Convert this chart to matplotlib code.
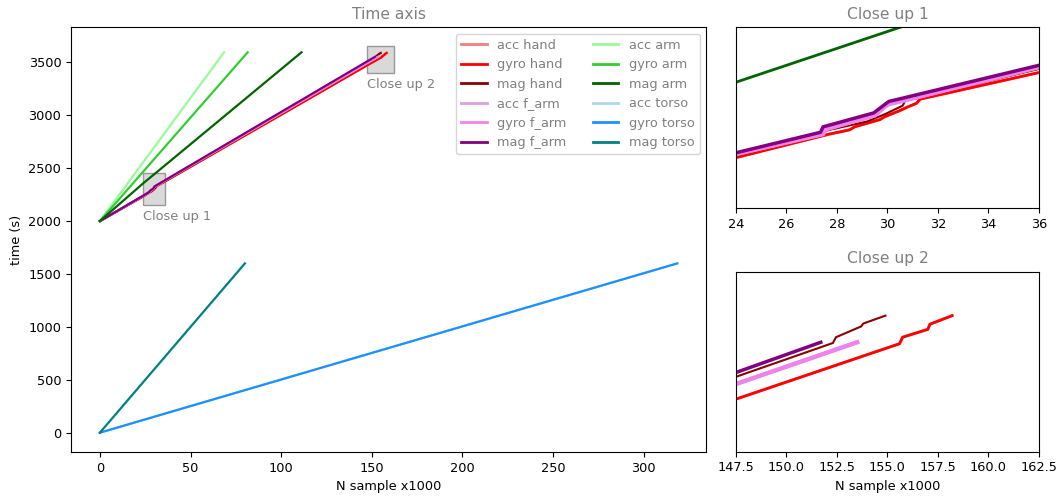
import numpy as np
import matplotlib
matplotlib.use('Agg')
import matplotlib.pyplot as plt
from matplotlib.patches import Rectangle

plt.rcParams['font.size'] = 9.3

# sample index (x1000) and timestamp (s) breakpoints for each sensor stream
gyro_hand_x = [0, 24, 27.7, 28.5, 28.7, 29.7, 29.9, 30.5, 30.8, 31.15, 31.3, 36,
               147.5, 155.6, 155.75, 157.0, 157.1, 158.2]
gyro_hand_y = [2000, 2234, 2273, 2280, 2285, 2297, 2302, 2312, 2318, 2324, 2331, 2375,
               3473, 3550, 3559, 3570, 3577, 3589]
mag_hand_x = [0, 24, 27.7, 29.2, 29.9, 30.6, 30.7, 36,
              147.5, 152.3, 152.45, 153.7, 153.8, 154.9]
mag_hand_y = [2000, 2238, 2280, 2294, 2306, 2320, 2328, 2381,
              3504, 3551, 3559, 3574, 3578, 3589]
gyro_farm_x = [0, 24, 27.45, 27.55, 29.5, 30.0, 36, 147.5, 153.5]
gyro_farm_y = [2000, 2240, 2273, 2281, 2304, 2322, 2384, 3494, 3552]
mag_farm_x = [0, 24, 27.35, 27.45, 29.45, 30.05, 36, 147.5, 151.7]
mag_farm_y = [2000, 2242, 2276, 2285, 2308, 2327, 2387, 3510, 3552]
acc_arm_x = [0, 68.5]
acc_arm_y = [2000, 3595]
gyro_arm_x = [0, 81.5]
gyro_arm_y = [2000, 3595]
mag_arm_x = [0, 24, 30.5, 111.2]
mag_arm_y = [2000, 2359, 2450, 3595]
gyro_torso_x = [0, 318.5]
gyro_torso_y = [0, 1600]
mag_torso_x = [0, 80]
mag_torso_y = [0, 1600]

# acc and gyro share the same timestamps
streams = [
    ('acc hand', 'lightcoral', gyro_hand_x, gyro_hand_y),
    ('gyro hand', 'red', gyro_hand_x, gyro_hand_y),
    ('mag hand', 'darkred', mag_hand_x, mag_hand_y),
    ('acc f_arm', 'plum', gyro_farm_x, gyro_farm_y),
    ('gyro f_arm', 'violet', gyro_farm_x, gyro_farm_y),
    ('mag f_arm', 'purple', mag_farm_x, mag_farm_y),
    ('acc arm', 'palegreen', acc_arm_x, acc_arm_y),
    ('gyro arm', 'limegreen', gyro_arm_x, gyro_arm_y),
    ('mag arm', 'darkgreen', mag_arm_x, mag_arm_y),
    ('acc torso', 'lightblue', gyro_torso_x, gyro_torso_y),
    ('gyro torso', 'dodgerblue', gyro_torso_x, gyro_torso_y),
    ('mag torso', 'teal', mag_torso_x, mag_torso_y),
]
zoom_lw = {'mag hand': 1.5, 'gyro f_arm': 3, 'acc f_arm': 3, 'mag f_arm': 2.5}

close1 = (24, 36, 2150, 2450)
close2 = (147.5, 162.5, 3400, 3650)

fig = plt.figure(figsize=(10.62, 4.98), dpi=100)
ax = fig.add_axes([0.0669, 0.0924, 0.598, 0.853])
ax1 = fig.add_axes([0.693, 0.5817, 0.2853, 0.3635])
ax2 = fig.add_axes([0.693, 0.093, 0.2853, 0.3614])

for name, col, x, y in streams:
    ax.plot(x, y, color=col, lw=1.6, label=name, zorder=3)
    for a in (ax1, ax2):
        a.plot(x, y, color=col, lw=zoom_lw.get(name, 2))

for i, (x0, x1, y0, y1) in enumerate([close1, close2]):
    ax.add_patch(Rectangle((x0, y0), x1 - x0, y1 - y0, facecolor='#d9d9d9',
                           edgecolor='#999999', lw=1, zorder=2))
    ax.text(x0, y0 - 50, 'Close up %d' % (i + 1), color='gray', va='top', ha='left')

leg = ax.legend(loc='upper right', ncol=2)
for t in leg.get_texts():
    t.set_color('gray')
for h in leg.get_lines():
    h.set_linewidth(2)

ax.set_title('Time axis', color='gray', fontsize=11.2)
ax.set_xlabel('N sample x1000')
ax.set_ylabel('time (s)')

ax1.set_xlim(close1[0], close1[1])
ax1.set_ylim(close1[2], close1[3])
ax1.set_xticks(np.arange(24, 37, 2))
ax1.set_yticks([])
ax1.set_title('Close up 1', color='gray', fontsize=11.2)

ax2.set_xlim(close2[0], close2[1])
ax2.set_ylim(close2[2], close2[3])
ax2.set_xticks(np.arange(147.5, 163, 2.5))
ax2.set_yticks([])
ax2.set_title('Close up 2', color='gray', fontsize=11.2)
ax2.set_xlabel('N sample x1000')

fig.savefig('out.png', dpi=100)
